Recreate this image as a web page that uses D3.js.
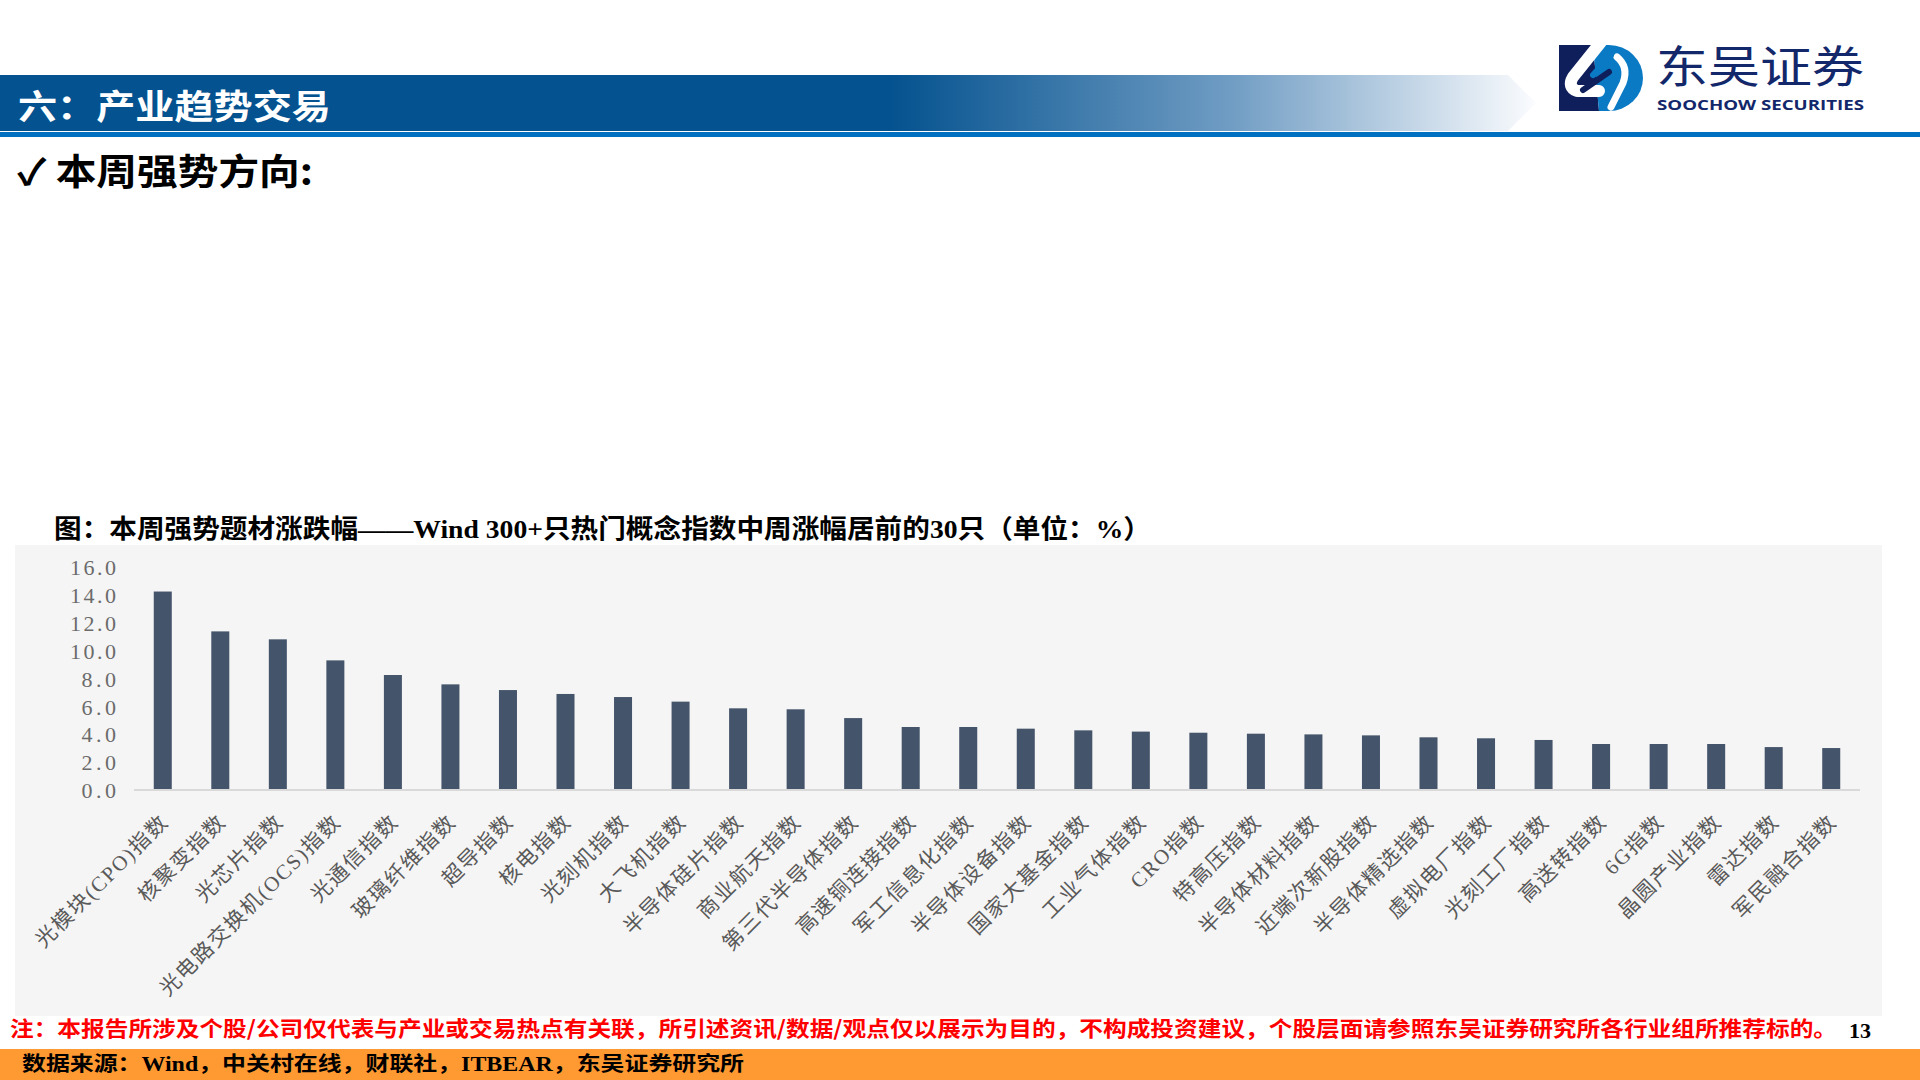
<!DOCTYPE html>
<html>
<head>
<meta charset="utf-8">
<script src="https://cdn.jsdelivr.net/npm/d3@7/dist/d3.min.js"></script>
<style>
  html, body { margin: 0; padding: 0; background: #ffffff; }
  svg { display: block; }
</style>
</head>
<body>
<svg id="chart" width="1920" height="1080"></svg>
<script>
// ---------------- DATA ----------------
const categories = [
  "光模块(CPO)指数", "核聚变指数", "光芯片指数", "光电路交换机(OCS)指数", "光通信指数",
  "玻璃纤维指数", "超导指数", "核电指数", "光刻机指数", "大飞机指数",
  "半导体硅片指数", "商业航天指数", "第三代半导体指数", "高速铜连接指数", "军工信息化指数",
  "半导体设备指数", "国家大基金指数", "工业气体指数", "CRO指数", "特高压指数",
  "半导体材料指数", "近端次新股指数", "半导体精选指数", "虚拟电厂指数", "光刻工厂指数",
  "高送转指数", "6G指数", "晶圆产业指数", "雷达指数", "军民融合指数"
];
const values = [
  14.24, 11.38, 10.81, 9.30, 8.25, 7.58, 7.17, 6.89, 6.67, 6.34,
  5.86, 5.79, 5.16, 4.52, 4.52, 4.40, 4.28, 4.19, 4.11, 4.04,
  3.99, 3.92, 3.78, 3.71, 3.59, 3.30, 3.30, 3.30, 3.08, 3.01
];
const yTicks = [0, 2, 4, 6, 8, 10, 12, 14, 16];

const sectionTitle = "六：产业趋势交易";
const subTitle = "✓ 本周强势方向:";
const chartTitle = "图：本周强势题材涨跌幅——Wind 300+只热门概念指数中周涨幅居前的30只（单位：%）";
const noteText = "注：本报告所涉及个股/公司仅代表与产业或交易热点有关联，所引述资讯/数据/观点仅以展示为目的，不构成投资建议，个股层面请参照东吴证券研究所各行业组所推荐标的。";
const pageNo = "13";
const sourceText = "数据来源：Wind，中关村在线，财联社，ITBEAR，东吴证券研究所";
const logoCn = "东吴证券";
const logoEn = "SOOCHOW SECURITIES";

// ---------------- DRAW ----------------
const svg = d3.select("#chart");
const serif = "'Liberation Serif', 'Noto Sans CJK SC', serif";
const sans = "'Noto Sans CJK SC', 'Noto Sans', sans-serif";

// header gradient
const defs = svg.append("defs");
const grad = defs.append("linearGradient")
  .attr("id", "hdrGrad").attr("gradientUnits", "userSpaceOnUse")
  .attr("x1", 0).attr("x2", 1536).attr("y1", 0).attr("y2", 0);
grad.append("stop").attr("offset", 0).attr("stop-color", "#04528F");
grad.append("stop").attr("offset", 0.58).attr("stop-color", "#04528F");
grad.append("stop").attr("offset", 0.8).attr("stop-color", "#6F9CC3");
grad.append("stop").attr("offset", 1).attr("stop-color", "#FBFCFE");

svg.append("path")
  .attr("d", "M0,75 H1508 L1536,103 L1508,131 H0 Z")
  .attr("fill", "url(#hdrGrad)");
svg.append("rect").attr("x", 0).attr("y", 132).attr("width", 1920).attr("height", 5).attr("fill", "#0070C0");

svg.append("text")
  .attr("x", 18).attr("y", 119)
  .attr("font-family", sans).attr("font-weight", 700).attr("font-size", 34)
  .attr("fill", "#ffffff")
  .attr("textLength", 313).attr("lengthAdjust", "spacingAndGlyphs")
  .text(sectionTitle);

svg.append("text")
  .attr("x", 17).attr("y", 185)
  .attr("font-family", sans).attr("font-weight", 700).attr("font-size", 36)
  .attr("fill", "#000000")
  .attr("textLength", 296).attr("lengthAdjust", "spacingAndGlyphs")
  .text(subTitle);

// logo
const logo = svg.append("g").attr("transform", "translate(1559,45)");
logo.append("path").attr("d", "M0,0 H34 L40,66 H0 Z").attr("fill", "#0E1F5C");
logo.append("path").attr("d", "M34,0 H50 A34,33 0 0 1 50,66 H40 Z").attr("fill", "#0A7AC4");
logo.append("path").attr("d", "M42,-3 L14,32 Q8,42 18,46 L40,46")
  .attr("fill", "none").attr("stroke", "#ffffff").attr("stroke-width", 12).attr("stroke-linecap", "round").attr("stroke-linejoin", "round");
logo.append("path").attr("d", "M24,45 L50,27")
  .attr("fill", "none").attr("stroke", "#0E1F5C").attr("stroke-width", 6).attr("stroke-linecap", "round");
logo.append("path").attr("d", "M58,12 Q70,22 64,38 L52,62")
  .attr("fill", "none").attr("stroke", "#ffffff").attr("stroke-width", 7).attr("stroke-linecap", "round");
logo.append("path").attr("d", "M34,30 L52,10")
  .attr("fill", "none").attr("stroke", "#0A7AC4").attr("stroke-width", 6).attr("stroke-linecap", "round");
svg.append("text")
  .attr("x", 1656).attr("y", 83)
  .attr("font-family", sans).attr("font-weight", 400).attr("font-size", 44)
  .attr("fill", "#13286B")
  .attr("textLength", 208).attr("lengthAdjust", "spacingAndGlyphs")
  .text(logoCn);
svg.append("text")
  .attr("x", 1657).attr("y", 110)
  .attr("font-family", "'Open Sans', 'Noto Sans', sans-serif").attr("font-weight", 700).attr("font-size", 14)
  .attr("fill", "#13286B")
  .attr("textLength", 207).attr("lengthAdjust", "spacingAndGlyphs")
  .text(logoEn);

// chart title
svg.append("text")
  .attr("x", 54).attr("y", 538)
  .attr("font-family", serif).attr("font-weight", 700).attr("font-size", 26)
  .attr("fill", "#000000")
  .attr("textLength", 1097).attr("lengthAdjust", "spacingAndGlyphs")
  .text(chartTitle);

// panel
svg.append("rect").attr("x", 15).attr("y", 545).attr("width", 1867).attr("height", 471).attr("fill", "#F5F5F5");

// scales
const x = d3.scaleBand().domain(categories).range([134, 1860])
  .paddingInner(0.687).paddingOuter(0.687 / 2);
const y = d3.scaleLinear().domain([0, 16]).range([790, 567]);

// bars
svg.append("g").selectAll("rect")
  .data(values)
  .join("rect")
  .attr("x", (d, i) => x(categories[i]))
  .attr("width", x.bandwidth())
  .attr("y", d => y(d))
  .attr("height", d => y(0) - y(d))
  .attr("fill", "#44546A");

// y axis (labels only)
const yAxis = d3.axisLeft(y).tickValues(yTicks).tickFormat(d3.format(".1f")).tickSize(0).tickPadding(0);
const yg = svg.append("g").attr("transform", "translate(116,0)").call(yAxis);
yg.select(".domain").remove();
yg.selectAll("text")
  .attr("font-family", serif).attr("font-size", 22).attr("fill", "#6B6B6B")
  .attr("dy", "0.35em")
  .attr("textLength", d => d3.format(".1f")(d).length * 11.5)
  .attr("lengthAdjust", "spacing");

// x axis line and labels
svg.append("line")
  .attr("x1", 134).attr("x2", 1860).attr("y1", 790).attr("y2", 790)
  .attr("stroke", "#D9D9D9").attr("stroke-width", 2);

const xAxis = d3.axisBottom(x).tickSize(0).tickPadding(0);
const xg = svg.append("g").attr("transform", "translate(0,790)").call(xAxis);
xg.select(".domain").remove();
xg.selectAll(".tick text")
  .attr("font-family", serif).attr("font-size", 21).attr("fill", "#595959")
  .attr("letter-spacing", 1.8)
  .attr("text-anchor", "end")
  .attr("dy", 0).attr("y", 0)
  .attr("transform", "translate(7,33) rotate(-45)");

// note
svg.append("text")
  .attr("x", 10).attr("y", 1036)
  .attr("font-family", sans).attr("font-weight", 700).attr("font-size", 21)
  .attr("fill", "#FF0000")
  .attr("textLength", 1827).attr("lengthAdjust", "spacingAndGlyphs")
  .text(noteText);
svg.append("text")
  .attr("x", 1849).attr("y", 1038)
  .attr("font-family", serif).attr("font-weight", 700).attr("font-size", 22)
  .attr("fill", "#000000")
  .text(pageNo);

// source band
svg.append("rect").attr("x", 0).attr("y", 1049).attr("width", 1920).attr("height", 31).attr("fill", "#FF9A33");
svg.append("text")
  .attr("x", 22).attr("y", 1071)
  .attr("font-family", serif).attr("font-weight", 700).attr("font-size", 20)
  .attr("fill", "#000000")
  .attr("textLength", 722).attr("lengthAdjust", "spacingAndGlyphs")
  .text(sourceText);
</script>
</body>
</html>
